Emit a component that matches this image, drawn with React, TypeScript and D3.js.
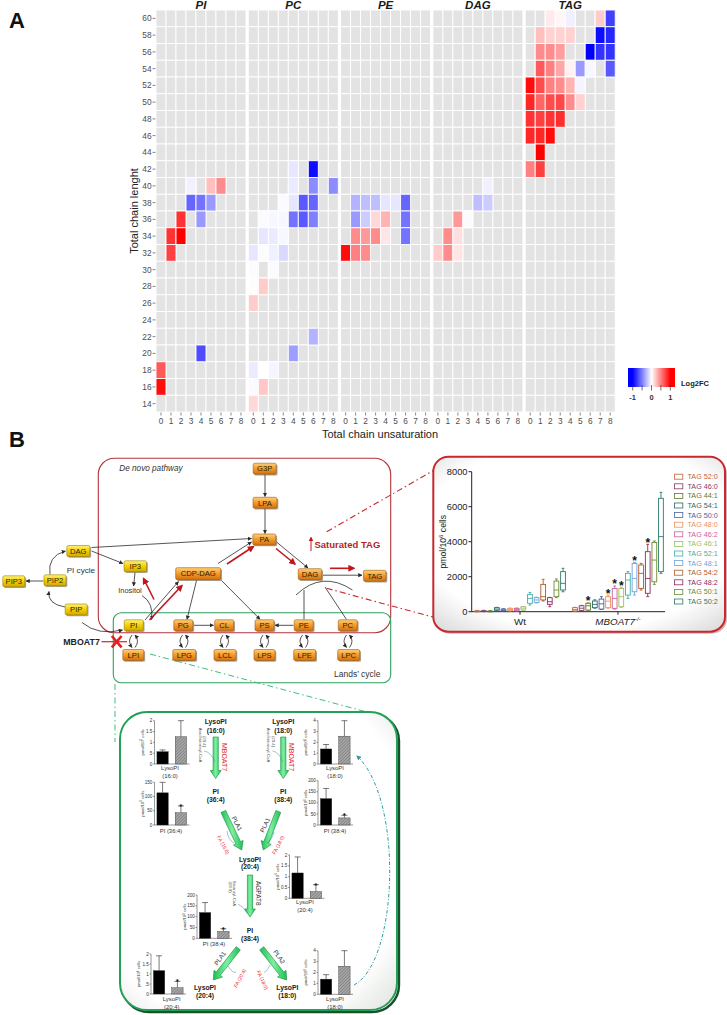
import React from "react";
import * as d3 from "d3";

const W = 727;
const H = 1015;
const FONT = "'Liberation Sans', Arial, Helvetica, sans-serif";

// ---------------- A: heatmap data ----------------
const lipidClasses = ["PI", "PC", "PE", "DAG", "TAG"];
const chainLengths = [60, 58, 56, 54, 52, 50, 48, 46, 44, 42, 40, 38, 36, 34, 32, 30, 28, 26, 24, 22, 20, 18, 16, 14];
const unsaturations = [0, 1, 2, 3, 4, 5, 6, 7, 8];
const log2fcTicks = [-1, -0.5, 0, 0.5, 1];
const log2fcLabels = [-1, 0, 1];

// [chain length, unsaturation, log2FC]
const piCells = [
  [40, 3, -0.05], [40, 5, 0.25], [40, 6, 0.45],
  [38, 3, -0.6], [38, 4, -0.55], [38, 5, -0.4],
  [36, 2, 0.8], [36, 4, -0.4],
  [34, 1, 0.8], [34, 2, 1.0],
  [32, 1, 0.75],
  [20, 4, -0.7],
  [18, 0, 0.65],
  [16, 0, 0.95],
];
const pcCells = [
  [42, 4, -0.1], [42, 6, -0.95],
  [40, 4, -0.08], [40, 6, -0.45], [40, 8, -0.45],
  [38, 3, -0.02], [38, 4, -0.1], [38, 5, -0.65], [38, 6, -0.6],
  [36, 1, -0.02], [36, 2, -0.03], [36, 3, -0.03], [36, 4, -0.55], [36, 5, -0.65], [36, 6, -0.5],
  [34, 1, -0.1], [34, 2, -0.08], [34, 3, -0.03],
  [32, 0, -0.1], [32, 1, -0.01], [32, 2, -0.06], [32, 3, -0.15],
  [30, 0, -0.01], [30, 2, -0.02],
  [28, 0, 0.01], [28, 1, 0.2],
  [26, 0, 0.2],
  [22, 6, -0.3],
  [20, 4, -0.38],
  [18, 0, -0.08], [18, 1, 0.0], [18, 2, -0.04],
  [16, 0, -0.02], [16, 1, 0.22],
  [14, 0, 0.15],
];
const peCells = [
  [38, 1, -0.3], [38, 2, -0.25], [38, 3, -0.25], [38, 4, -0.1], [38, 5, -0.1], [38, 6, -0.6],
  [36, 1, -0.4], [36, 2, -0.2], [36, 3, 0.15], [36, 4, 0.3], [36, 6, -0.55],
  [34, 1, 0.45], [34, 2, 0.4], [34, 3, 0.45], [34, 4, 0.1], [34, 6, -0.55],
  [32, 0, 0.95], [32, 1, 0.5], [32, 2, 0.45],
];
const dagCells = [
  [40, 5, -0.06],
  [38, 4, -0.25], [38, 5, -0.2],
  [36, 2, 0.4], [36, 3, -0.02],
  [34, 1, 0.45], [34, 2, 0.12],
  [32, 0, 0.2], [32, 1, 0.45], [32, 2, 0.1],
];
const tagCells = [
  [60, 2, 0.08], [60, 3, 0.03], [60, 4, -0.06], [60, 7, 0.2], [60, 8, -0.75],
  [58, 1, 0.25], [58, 2, 0.18], [58, 3, 0.18], [58, 4, 0.18], [58, 7, -0.95], [58, 8, -0.85],
  [56, 1, 0.45], [56, 2, 0.45], [56, 3, 0.38], [56, 6, -1], [56, 7, -0.8], [56, 8, -0.8],
  [54, 1, 0.65], [54, 2, 0.5], [54, 3, 0.35], [54, 4, 0.05], [54, 5, -0.4], [54, 6, -0.03], [54, 8, -0.65],
  [52, 0, 0.95], [52, 1, 0.7], [52, 2, 0.5], [52, 3, 0.45], [52, 4, 0.3], [52, 5, -0.04],
  [50, 0, 0.85], [50, 1, 0.6], [50, 2, 0.7], [50, 3, 0.72], [50, 4, 0.45], [50, 5, 0.18],
  [48, 0, 0.8], [48, 1, 0.75], [48, 2, 0.8], [48, 3, 0.82],
  [46, 0, 0.85], [46, 1, 0.85], [46, 2, 0.95],
  [44, 1, 1.0],
  [42, 0, 0.5], [42, 1, 0.75],
];
const cellsByClass = { PI: piCells, PC: pcCells, PE: peCells, DAG: dagCells, TAG: tagCells };

// ---------------- B: TAG box plot data ----------------
const genotypes = ["Wt", "MBOAT7"];
const tagSpecies = ["TAG 52:0", "TAG 46:0", "TAG 44:1", "TAG 54:1", "TAG 50:0", "TAG 48:0", "TAG 46:2",
  "TAG 46:1", "TAG 52:1", "TAG 48:1", "TAG 54:2", "TAG 48:2", "TAG 50:1", "TAG 50:2"];
const tagColors = ["#c0653a", "#8a3a5c", "#5d7a2e", "#2b6b6b", "#4a62a0", "#f0905a", "#d0609a",
  "#98c060", "#40b0a8", "#70a0e0", "#b05a2a", "#8a2a5a", "#6a8a30", "#2e7a6a"];
// [min, q1, median, q3, max] pmol/10^6 cells
const wtBoxes = [
  [0, 10, 25, 45, 70], [0, 15, 30, 55, 80], [0, 5, 20, 40, 60], [60, 80, 150, 230, 250],
  [40, 60, 100, 150, 170], [40, 60, 120, 190, 210], [40, 60, 120, 190, 210], [80, 100, 200, 285, 300],
  [380, 480, 760, 990, 1100], [500, 530, 670, 800, 830], [610, 670, 860, 1560, 1850],
  [285, 420, 570, 800, 820], [800, 860, 1240, 1750, 1870], [1140, 1240, 1620, 2290, 2480],
];
const koBoxes = [
  [20, 40, 120, 230, 250], [60, 75, 200, 340, 360], [80, 95, 340, 480, 500], [200, 230, 420, 610, 680],
  [130, 150, 450, 720, 860], [200, 230, 600, 860, 950], [150, 190, 760, 1330, 1470], [250, 285, 860, 1330, 1400],
  [760, 950, 1810, 2190, 2290], [950, 1140, 1900, 2760, 2820], [1240, 1330, 2190, 2670, 2760],
  [860, 1050, 1900, 3430, 3850], [1560, 1710, 2950, 3960, 4040], [2190, 2290, 4290, 6480, 6820],
];
const koSignificant = [false, false, true, false, false, true, true, true, false, true, false, true, false, false];
const tagTicks = [0, 2000, 4000, 6000, 8000];

// ---------------- B: Lands' cycle bar data (Wt, MBOAT7-/-) ----------------
const barGroups = ["Wt", "KO"];
const lysoPI160Mean = [0.57, 1.26];
const lysoPI160Err = [0.08, 0.74];
const pi364Mean = [113, 43];
const pi364Err = [37, 24];
const lysoPI180Mean = [1.39, 2.57];
const lysoPI180Err = [0.41, 1.43];
const pi384Mean = [119, 32];
const pi384Err = [46, 12];
const lysoPI204Mean = [1.17, 0.31];
const lysoPI204Err = [0.74, 0.32];

// ---------------- scales ----------------
const panelX = d3.scaleBand().domain(lipidClasses).range([156, 615.2]).paddingInner(0.025);
const colX = d3.scaleBand().domain(unsaturations).range([0, panelX.bandwidth()]);
const rowY = d3.scaleBand().domain(chainLengths).range([10, 412]);
const fillScale = d3.scaleLinear().domain([-1, 0, 1]).range(["#0000ff", "#ffffff", "#ff0000"]).clamp(true);
const cbarX = d3.scaleLinear().domain([-1.25, 1.25]).range([628, 675]);

const bpY = d3.scaleLinear().domain([0, 8000]).range([611.7, 471.7]);
const bpGroup = d3.scaleBand().domain(genotypes).range([474, 664]).paddingInner(0.06);
const bpInner = d3.scaleBand().domain(tagSpecies).range([0, bpGroup.bandwidth()]).paddingInner(0.28).paddingOuter(0.1);

// ---------------- pathway layout ----------------
const nodes = [
  { id: "G3P", x: 264.7, y: 468.7, w: 23, k: "o" },
  { id: "LPA", x: 265, y: 502.8, w: 24, k: "o" },
  { id: "PA", x: 264.3, y: 539.5, w: 23, k: "o" },
  { id: "CDP-DAG", x: 198.2, y: 573.7, w: 45, k: "o" },
  { id: "DAG", x: 310, y: 574.2, w: 23.5, k: "o" },
  { id: "TAG", x: 374.7, y: 575.8, w: 22.5, k: "o" },
  { id: "PG", x: 183.3, y: 625.3, w: 19, k: "o" },
  { id: "CL", x: 224.2, y: 625.3, w: 19, k: "o" },
  { id: "PS", x: 264.5, y: 625.3, w: 19, k: "o" },
  { id: "PE", x: 303.7, y: 625.3, w: 19, k: "o" },
  { id: "PC", x: 347.8, y: 625.3, w: 19, k: "o" },
  { id: "LPI", x: 133.3, y: 655, w: 21, k: "o" },
  { id: "LPG", x: 184.3, y: 655, w: 23, k: "o" },
  { id: "LCL", x: 225, y: 655, w: 22, k: "o" },
  { id: "LPS", x: 264.5, y: 655, w: 21, k: "o" },
  { id: "LPE", x: 304.7, y: 655, w: 22, k: "o" },
  { id: "LPC", x: 348.7, y: 655, w: 22, k: "o" },
  { id: "DAG", x: 78.3, y: 551, w: 23, k: "y" },
  { id: "IP3", x: 135.3, y: 566.3, w: 22.5, k: "y" },
  { id: "PIP2", x: 55, y: 580.3, w: 22, k: "y" },
  { id: "PIP3", x: 13.8, y: 581.3, w: 22, k: "y" },
  { id: "PIP", x: 76.2, y: 609.5, w: 22, k: "y" },
  { id: "PI", x: 133.7, y: 625.3, w: 19, k: "y" },
];
const blackArrows = [
  "M265 474.5 L265 496.5", "M265 508.5 L265 533.5", "M91.5 547.5 L251.5 538.5", "M91.5 551 L123 563.5",
  "M135 572.5 L133.6 586", "M142 595.5 Q154 603 151.5 619.5", "M145 620 L178.5 581.5",
  "M218 563.5 L251.5 542", "M276.5 542 L308 568", "M323 575.2 L362 575.2", "M196.5 580.5 L187 619.3",
  "M221.5 580.5 L260 619.3", "M194 625.3 L213.5 625.3", "M293.5 625.3 L275 625.3", "M43.5 581 L26 581",
  "M65 607 Q47 604 49 591.5", "M50 574.5 Q47 556 65.5 551", "M82 622.5 Q98 636 122.5 630",
];
const blackLines = ["M304 619.5 L304 590", "M346.5 619.5 L325 587", "M296 595 Q322 570 352.5 590"];
const redArrows = ["M154 599.5 L143.5 578.5", "M149.5 620 L182 585.5", "M227 564 L253.5 546.5", "M276 548.5 L295 564", "M330 568.3 L354 568.3"];
const landsX = [133.5, 184, 224.5, 264.5, 304, 348];

// ---------------- Lands' cycle panel layout ----------------
const miniCharts = [
  { ax: 154.5, y0: 764, yTop: 720.7, max: 2, ticks: [0, 0.5, 1, 1.5, 2], fmt: ["0", ".5", "1", "1.5", "2"], mean: lysoPI160Mean, err: lysoPI160Err, star: false, lab: ["LysoPI", "(16:0)"], lx: 170, ly: 770 },
  { ax: 154.5, y0: 825, yTop: 782.3, max: 150, ticks: [0, 50, 100, 150], fmt: ["0", "50", "100", "150"], mean: pi364Mean, err: pi364Err, star: true, lab: ["PI (36:4)"], lx: 171, ly: 833 },
  { ax: 318, y0: 764, yTop: 720.7, max: 4, ticks: [0, 1, 2, 3, 4], fmt: ["0", "1", "2", "3", "4"], mean: lysoPI180Mean, err: lysoPI180Err, star: false, lab: ["LysoPI", "(18:0)"], lx: 335, ly: 770 },
  { ax: 318, y0: 825, yTop: 780.7, max: 200, ticks: [0, 50, 100, 150, 200], fmt: ["0", "50", "100", "150", "200"], mean: pi384Mean, err: pi384Err, star: true, lab: ["PI (38:4)"], lx: 335, ly: 833 },
  { ax: 289.5, y0: 898.3, yTop: 855, max: 2, ticks: [0, 0.5, 1, 1.5, 2], fmt: ["0", "0.5", "1", "1.5", "2"], mean: lysoPI204Mean, err: lysoPI204Err, star: true, lab: ["LysoPI", "(20:4)"], lx: 305, ly: 904 },
  { ax: 197, y0: 938.3, yTop: 895, max: 200, ticks: [0, 50, 100, 150, 200], fmt: ["0", "50", "100", "150", "200"], mean: pi384Mean, err: pi384Err, star: true, lab: ["PI (38:4)"], lx: 214, ly: 946 },
  { ax: 151, y0: 994, yTop: 954, max: 2, ticks: [0, 0.5, 1, 1.5, 2], fmt: ["0", ".5", "1", "1.5", "2"], mean: lysoPI204Mean, err: lysoPI204Err, star: true, lab: ["LysoPI", "(20:4)"], lx: 171.7, ly: 1001 },
  { ax: 318, y0: 994.3, yTop: 950.7, max: 4, ticks: [0, 1, 2, 3, 4], fmt: ["0", "1", "2", "3", "4"], mean: lysoPI180Mean, err: lysoPI180Err, star: false, lab: ["LysoPI", "(18:0)"], lx: 335, ly: 1001 },
];
const speciesLabels = [
  { t: "LysoPI", x: 215.7, y: 724 }, { t: "(16:0)", x: 215.7, y: 732.5 },
  { t: "LysoPI", x: 283.3, y: 724 }, { t: "(18:0)", x: 283.3, y: 732.5 },
  { t: "PI", x: 215.7, y: 793.5 }, { t: "(36:4)", x: 215.7, y: 802 },
  { t: "PI", x: 283.3, y: 793.5 }, { t: "(38:4)", x: 283.3, y: 802 },
  { t: "LysoPI", x: 250, y: 861.5 }, { t: "(20:4)", x: 250, y: 869 },
  { t: "PI", x: 250, y: 932.5 }, { t: "(38:4)", x: 250, y: 941 },
  { t: "LysoPI", x: 205, y: 990 }, { t: "(20:4)", x: 205, y: 998 },
  { t: "LysoPI", x: 287.3, y: 990 }, { t: "(18:0)", x: 287.3, y: 998 },
];
const greenArrows = [
  [215.7, 737, 215.7, 778.5], [283.3, 737, 283.3, 778.5], [223.3, 811.5, 241.7, 850],
  [278.3, 811.5, 263.3, 850], [250, 875, 250, 917], [238.3, 948.3, 213.3, 980], [261.7, 948.3, 286.7, 980],
];
const rotLabels = [
  { t: "MBOAT7", x: 224.5, y: 757, a: 90, s: 7, c: "#e8202a" },
  { t: "MBOAT7", x: 291.8, y: 757, a: 90, s: 7, c: "#e8202a" },
  { t: "Arachidonoyl-CoA", x: 200.5, y: 745, a: 90, s: 4.3, c: "#555" },
  { t: "(20:4)", x: 205, y: 741.5, a: 90, s: 4.3, c: "#555" },
  { t: "Arachidonoyl-CoA", x: 268.7, y: 745, a: 90, s: 4.3, c: "#555" },
  { t: "(20:4)", x: 273.2, y: 741.5, a: 90, s: 4.3, c: "#555" },
  { t: "PLA1", x: 237, y: 823.5, a: 62, s: 6.3, c: "#333" },
  { t: "FA (16:0)", x: 223.3, y: 845, a: 62, s: 5, c: "#e8202a" },
  { t: "PLA1", x: 265, y: 825, a: -65, s: 6.3, c: "#333" },
  { t: "FA (18:0)", x: 278.3, y: 845, a: -62, s: 5, c: "#e8202a" },
  { t: "AGPAT8", x: 258.5, y: 893.3, a: 90, s: 6.5, c: "#333" },
  { t: "Stearoyl-CoA", x: 235, y: 893.3, a: 90, s: 4.3, c: "#555" },
  { t: "(18:0)", x: 230.5, y: 887, a: 90, s: 4.3, c: "#555" },
  { t: "PLA1", x: 220, y: 958.3, a: -55, s: 6.3, c: "#333" },
  { t: "FA (20:4)", x: 240, y: 978.3, a: -62, s: 5, c: "#e8202a" },
  { t: "PLA2", x: 279.2, y: 956.7, a: 55, s: 6.3, c: "#333" },
  { t: "FA (18:0)", x: 262.5, y: 980, a: 65, s: 5, c: "#e8202a" },
];
const thinCurves = [
  "M204 751 Q211 752 215 762", "M272.5 751 Q279 752 282.8 762", "M227 831 Q228 840 234 843",
  "M274 832 Q272 840 267 843", "M238 904 Q243 906 247 913", "M228 966 Q233 974 236 972", "M270 965 Q266 973 264 972",
];

function blockArrow(x1, y1, x2, y2) {
  const shaft = 2.6, head = 5.4, headLen = 8;
  const dx = x2 - x1, dy = y2 - y1, len = Math.hypot(dx, dy);
  const ux = dx / len, uy = dy / len, px = -uy, py = ux;
  const bx = x2 - ux * headLen, by = y2 - uy * headLen;
  const pts = [
    [x1 + px * shaft, y1 + py * shaft], [bx + px * shaft, by + py * shaft], [bx + px * head, by + py * head],
    [x2, y2], [bx - px * head, by - py * head], [bx - px * shaft, by - py * shaft], [x1 - px * shaft, y1 - py * shaft],
  ];
  return "M" + pts.map((p) => p[0].toFixed(2) + "," + p[1].toFixed(2)).join("L") + "Z";
}

function Sup6({ size }) {
  return (
    <>
      pmol/10<tspan fontSize={size * 0.7} dy={-size * 0.35}>6</tspan>
      <tspan dy={size * 0.35}> cells</tspan>
    </>
  );
}

function Heatmap() {
  return (
    <g>
      <text x={9} y={28} fontSize={22} fontWeight="bold" fill="#111">A</text>
      {lipidClasses.map((cls) => {
        const x0 = panelX(cls);
        return (
          <g key={cls} transform={`translate(${x0},0)`}>
            {chainLengths.map((L) =>
              unsaturations.map((u) => (
                <rect key={L + "-" + u} x={colX(u)} y={rowY(L)} width={colX.bandwidth()} height={rowY.bandwidth()}
                  fill="#e3e3e3" stroke="#ffffff" strokeWidth={0.9} />
              ))
            )}
            {cellsByClass[cls].map(([L, u, v]) => (
              <rect key={"c" + L + "-" + u} x={colX(u)} y={rowY(L)} width={colX.bandwidth()} height={rowY.bandwidth()}
                fill={fillScale(v)} stroke="#ffffff" strokeWidth={0.9} />
            ))}
            <text x={panelX.bandwidth() / 2} y={9} textAnchor="middle" fontSize={11.5} fontWeight="bold" fontStyle="italic" fill="#1a1a1a">{cls}</text>
            {unsaturations.map((u) => (
              <g key={"t" + u} transform={`translate(${colX(u) + colX.bandwidth() / 2},0)`}>
                <line y1={412.5} y2={415.5} stroke="#555" strokeWidth={0.7} />
                <text y={423.5} textAnchor="middle" fontSize={8.3} fill="#4d4d4d">{u}</text>
              </g>
            ))}
          </g>
        );
      })}
      {chainLengths.map((L) => (
        <g key={"y" + L} transform={`translate(0,${rowY(L) + rowY.bandwidth() / 2})`}>
          <line x1={152.5} x2={155.5} stroke="#555" strokeWidth={0.7} />
          <text x={151.5} dy="0.35em" textAnchor="end" fontSize={8.3} fill="#4d4d4d">{L}</text>
        </g>
      ))}
      <text x={380} y={437.5} textAnchor="middle" fontSize={11} fill="#222">Total chain unsaturation</text>
      <text transform="translate(138,211) rotate(-90)" textAnchor="middle" fontSize={11} fill="#222">Total chain lenght</text>
      {/* colour bar legend */}
      <rect x={628} y={368} width={47} height={19} fill="url(#cbar)" />
      {log2fcTicks.map((t) => (
        <line key={"cb" + t} x1={cbarX(t)} x2={cbarX(t)} y1={385} y2={390.5} stroke="#333" strokeWidth={0.7} />
      ))}
      {log2fcLabels.map((t) => (
        <text key={"cl" + t} x={cbarX(t)} y={399.5} textAnchor="middle" fontSize={7.5} fontWeight="bold" fill="#333">{t}</text>
      ))}
      <text x={681} y={386} fontSize={7.5} fontWeight="bold" fill="#222">Log2FC</text>
    </g>
  );
}

function PathNode({ n }) {
  const h = n.id === "CDP-DAG" ? 12 : 11;
  const orange = n.k === "o";
  return (
    <g>
      <rect x={n.x - n.w / 2 + 1.3} y={n.y - h / 2 + 1.3} width={n.w} height={h} rx={1.6} fill="#5a4a30" opacity={0.5} />
      <rect x={n.x - n.w / 2} y={n.y - h / 2} width={n.w} height={h} rx={1.6}
        fill={orange ? "url(#gOrange)" : "url(#gYellow)"} stroke={orange ? "#9a5a12" : "#9a8200"} strokeWidth={0.6} />
      <text x={n.x} y={n.y} dy="0.36em" textAnchor="middle" fontSize={7.6} fill="#2b1d08">{n.id}</text>
    </g>
  );
}

function Pathway() {
  return (
    <g>
      <text x={9} y={447} fontSize={22} fontWeight="bold" fill="#111">B</text>
      <rect x={98.3} y={458.3} width={292.4} height={174.4} rx={16} fill="none" stroke="#b3343a" strokeWidth={1.1} />
      <rect x={113.3} y={612.7} width={277.4} height={70} rx={8} fill="none" stroke="#2ea05e" strokeWidth={1.1} />
      <text x={119.3} y={471} fontSize={8.2} fontStyle="italic" fill="#333">De novo pathway</text>
      <text x={66.7} y={573} fontSize={8.1} fill="#333">PI cycle</text>
      <text x={118.3} y={593} fontSize={7.4} fill="#333">Inositol</text>
      <text x={334} y={677} fontSize={8.5} fill="#333">Lands’ cycle</text>
      <line x1={311} y1={551} x2={311} y2={537.5} stroke="#c0161c" strokeWidth={1} markerEnd="url(#mRedS)" />
      <text x={314.5} y={548} fontSize={9.5} fontWeight="bold" fill="#b51f24">Saturated TAG</text>
      {blackLines.map((d, i) => <path key={"bl" + i} d={d} fill="none" stroke="#2a2a2a" strokeWidth={0.8} />)}
      {blackArrows.map((d, i) => <path key={"ba" + i} d={d} fill="none" stroke="#2a2a2a" strokeWidth={0.8} markerEnd="url(#mBlack)" />)}
      {redArrows.map((d, i) => <path key={"ra" + i} d={d} fill="none" stroke="#c0161c" strokeWidth={1.6} markerEnd="url(#mRed)" />)}
      {landsX.map((x) => (
        <g key={"rv" + x}>
          <path d={`M${x - 1.5} 635 Q${x - 6.5} 641 ${x - 1.5} 647.5`} fill="none" stroke="#2a2a2a" strokeWidth={0.8} markerEnd="url(#mBlack)" />
          <path d={`M${x + 1.5} 647.5 Q${x + 6.5} 641 ${x + 1.5} 635`} fill="none" stroke="#2a2a2a" strokeWidth={0.8} markerEnd="url(#mBlack)" />
        </g>
      ))}
      {nodes.map((n, i) => <PathNode key={"n" + i} n={n} />)}
      <text x={63.3} y={645} fontSize={8.8} fontWeight="bold" fill="#222">MBOAT7</text>
      <line x1={101.5} y1={641.7} x2={127} y2={641.7} stroke="#e02020" strokeWidth={1.2} />
      <line x1={111.8} y1={636} x2={121.6} y2={647.4} stroke="#e02020" strokeWidth={2.6} />
      <line x1={121.6} y1={636} x2={111.8} y2={647.4} stroke="#e02020" strokeWidth={2.6} />
      {/* connector lines */}
      <path d="M326.7 531.7 L440 466.7" stroke="#c82828" strokeWidth={1.1} strokeDasharray="6 3 1.5 3" fill="none" />
      <path d="M326.7 588.3 L450 621.7" stroke="#c82828" strokeWidth={1.1} strokeDasharray="6 3 1.5 3" fill="none" />
      <path d="M150 654 L367 712" stroke="#3cc07a" strokeWidth={1} strokeDasharray="6 3 1.5 3" fill="none" />
      <path d="M115 684 L115 742" stroke="#3cc07a" strokeWidth={1} strokeDasharray="6 3 1.5 3" fill="none" />
    </g>
  );
}

function TagBoxPlot() {
  const boxesBy = { Wt: wtBoxes, MBOAT7: koBoxes };
  const bw = bpInner.bandwidth();
  return (
    <g>
      <rect x={435.3} y={458.7} width={291.7} height={175} rx={15} fill="#7a2a2a" opacity={0.35} />
      <rect x={433.3} y={456.7} width={291.7} height={175} rx={15} fill="url(#insetFill)" stroke="#c8282e" strokeWidth={2} />
      <line x1={471.7} x2={471.7} y1={bpY(8000)} y2={bpY(0)} stroke="#222" strokeWidth={1} />
      <line x1={471.7} x2={665} y1={bpY(0)} y2={bpY(0)} stroke="#222" strokeWidth={1} />
      {tagTicks.map((t) => (
        <g key={"bt" + t}>
          <line x1={468.5} x2={471.7} y1={bpY(t)} y2={bpY(t)} stroke="#222" strokeWidth={1} />
          <text x={467.5} y={bpY(t)} dy="0.35em" textAnchor="end" fontSize={9.3} fill="#222">{t}</text>
        </g>
      ))}
      <text transform={`translate(446,${(bpY(0) + bpY(8000)) / 2}) rotate(-90)`} textAnchor="middle" fontSize={8.6} fill="#222">
        <Sup6 size={8.6} />
      </text>
      {genotypes.map((g) => {
        const gx = bpGroup(g);
        const cx = gx + bpGroup.bandwidth() / 2;
        return (
          <g key={g}>
            <line x1={cx} x2={cx} y1={bpY(0)} y2={bpY(0) + 3} stroke="#222" strokeWidth={1} />
            {boxesBy[g].map((b, i) => {
              const x = gx + bpInner(tagSpecies[i]);
              const mx = x + bw / 2;
              const col = tagColors[i];
              return (
                <g key={i} stroke={col} strokeWidth={0.9} fill="none">
                  <line x1={mx} x2={mx} y1={bpY(b[4])} y2={bpY(b[3])} />
                  <line x1={mx} x2={mx} y1={bpY(b[1])} y2={bpY(b[0])} />
                  <line x1={mx - bw * 0.3} x2={mx + bw * 0.3} y1={bpY(b[4])} y2={bpY(b[4])} />
                  <line x1={mx - bw * 0.3} x2={mx + bw * 0.3} y1={bpY(b[0])} y2={bpY(b[0])} />
                  <rect x={x} y={bpY(b[3])} width={bw} height={Math.max(0.8, bpY(b[1]) - bpY(b[3]))} fill="#fff" />
                  <line x1={x} x2={x + bw} y1={bpY(b[2])} y2={bpY(b[2])} />
                  {g === "MBOAT7" && koSignificant[i] ? (
                    <text x={mx} y={bpY(b[4]) + 2.5} textAnchor="middle" fontSize={12} fontWeight="bold" fill="#111" stroke="none">*</text>
                  ) : null}
                </g>
              );
            })}
          </g>
        );
      })}
      <text x={bpGroup("Wt") + bpGroup.bandwidth() / 2} y={625} textAnchor="middle" fontSize={9.8} fill="#222">Wt</text>
      <text x={bpGroup("MBOAT7") + bpGroup.bandwidth() / 2} y={625} textAnchor="middle" fontSize={9.8} fontStyle="italic" fill="#222">
        MBOAT7<tspan fontSize={6} dy={-4}>-/-</tspan>
      </text>
      {tagSpecies.map((s, i) => {
        const y = 476.7 + i * 9.6;
        return (
          <g key={s}>
            <rect x={674.5} y={y - 2.5} width={8.3} height={5} fill="none" stroke={tagColors[i]} strokeWidth={0.8} />
            <text x={687.5} y={y} dy="0.35em" fontSize={7.2} fill={tagColors[i]}>{s}</text>
          </g>
        );
      })}
    </g>
  );
}

function MiniBars({ c }) {
  const y = d3.scaleLinear().domain([0, c.max]).range([c.y0, c.yTop]);
  const x = d3.scaleBand().domain(barGroups).range([c.ax + 1.5, c.ax + 33]).paddingInner(0.38).paddingOuter(0.05);
  return (
    <g>
      <line x1={c.ax} x2={c.ax} y1={c.yTop} y2={c.y0} stroke="#333" strokeWidth={0.5} />
      <line x1={c.ax} x2={c.ax + 35} y1={c.y0} y2={c.y0} stroke="#333" strokeWidth={0.5} />
      {c.ticks.map((t, i) => (
        <g key={t}>
          <line x1={c.ax - 1.5} x2={c.ax} y1={y(t)} y2={y(t)} stroke="#333" strokeWidth={0.5} />
          <text x={c.ax - 2.2} y={y(t)} dy="0.35em" textAnchor="end" fontSize={4.6} fill="#333">{c.fmt[i]}</text>
        </g>
      ))}
      <text transform={`translate(${c.ax - 11},${(c.y0 + c.yTop) / 2}) rotate(-90)`} textAnchor="middle" fontSize={4.2} fill="#444">
        <Sup6 size={4.2} />
      </text>
      {barGroups.map((g, i) => {
        const bx = x(g);
        const cx = bx + x.bandwidth() / 2;
        const top = y(c.mean[i] + c.err[i]);
        return (
          <g key={g}>
            <line x1={cx} x2={cx} y1={y(c.mean[i])} y2={top} stroke="#222" strokeWidth={0.6} />
            <line x1={cx - 3} x2={cx + 3} y1={top} y2={top} stroke="#222" strokeWidth={0.6} />
            <rect x={bx} y={y(c.mean[i])} width={x.bandwidth()} height={c.y0 - y(c.mean[i])}
              fill={i === 0 ? "#000" : "url(#hatch)"} stroke="#333" strokeWidth={0.4} />
            {i === 1 && c.star ? (
              <text x={cx} y={top + 3} textAnchor="middle" fontSize={8} fontWeight="bold" fill="#111">*</text>
            ) : null}
          </g>
        );
      })}
      {c.lab.map((t, i) => (
        <text key={t} x={c.lx} y={c.ly + i * 8.3} textAnchor="middle" fontSize={5.9} fill="#333">{t}</text>
      ))}
    </g>
  );
}

function LandsPanel() {
  return (
    <g>
      <rect x={122} y={714} width={277} height={298} rx={27} fill="none" stroke="#17502c" strokeWidth={2.4} />
      <rect x={120} y={712} width={277} height={298} rx={27} fill="url(#landsFill)" stroke="#22a055" strokeWidth={2} />
      {miniCharts.map((c, i) => <MiniBars key={i} c={c} />)}
      {greenArrows.map((a, i) => (
        <path key={"ga" + i} d={blockArrow(a[0], a[1], a[2], a[3])} fill="url(#gGreen)" stroke="#138a3c" strokeWidth={0.6} />
      ))}
      {thinCurves.map((d, i) => <path key={"tc" + i} d={d} fill="none" stroke="#3a8a9a" strokeWidth={0.5} />)}
      {speciesLabels.map((l, i) => (
        <text key={"sl" + i} x={l.x} y={l.y} textAnchor="middle" fontSize={6.8} fontWeight="bold" fill="#222">{l.t}</text>
      ))}
      {rotLabels.map((l, i) => (
        <text key={"rl" + i} transform={`translate(${l.x},${l.y}) rotate(${l.a})`} textAnchor="middle" dy="0.35em"
          fontSize={l.s} fill={l.c}>{l.t}</text>
      ))}
      <path d="M354 985 C398 962 404 800 357 756" fill="none" stroke="#2aa0a6" strokeWidth={1} strokeDasharray="3.5 1.8 1 1.8" markerEnd="url(#mTeal)" />
    </g>
  );
}

export default function App() {
  const cbarStops = [-1.25, -1, -0.5, 0, 0.5, 1, 1.25];
  return (
    <div style={{ position: "absolute", left: 0, top: 0 }}>
      <svg width={W} height={H} viewBox={`0 0 ${W} ${H}`} style={{ display: "block", fontFamily: FONT }}>
        <defs>
          <linearGradient id="cbar" x1="0" x2="1" y1="0" y2="0">
            {cbarStops.map((v) => (
              <stop key={v} offset={(cbarX(v) - 628) / 47} stopColor={fillScale(v)} />
            ))}
          </linearGradient>
          <linearGradient id="gOrange" x1="0" x2="0" y1="0" y2="1">
            <stop offset="0" stopColor="#ffd07a" />
            <stop offset="0.45" stopColor="#f59e2e" />
            <stop offset="1" stopColor="#d2700e" />
          </linearGradient>
          <linearGradient id="gYellow" x1="0" x2="0" y1="0" y2="1">
            <stop offset="0" stopColor="#fff27a" />
            <stop offset="0.5" stopColor="#f2d000" />
            <stop offset="1" stopColor="#d2a600" />
          </linearGradient>
          <linearGradient id="gGreen" x1="0" x2="1" y1="0" y2="0">
            <stop offset="0" stopColor="#1fbf55" />
            <stop offset="0.5" stopColor="#7ef0a2" />
            <stop offset="1" stopColor="#1fbf55" />
          </linearGradient>
          <radialGradient id="insetFill" cx="0.5" cy="0.45" r="0.72">
            <stop offset="0.75" stopColor="#ffffff" />
            <stop offset="1" stopColor="#dcdcdc" />
          </radialGradient>
          <radialGradient id="landsFill" cx="0.45" cy="0.45" r="0.75">
            <stop offset="0.8" stopColor="#ffffff" />
            <stop offset="1" stopColor="#e2e6e2" />
          </radialGradient>
          <pattern id="hatch" width="2.2" height="2.2" patternUnits="userSpaceOnUse" patternTransform="rotate(45)">
            <rect width="2.2" height="2.2" fill="#a6a6a6" />
            <line x1="0" y1="0" x2="0" y2="2.2" stroke="#6a6a6a" strokeWidth="0.9" />
          </pattern>
          <marker id="mBlack" viewBox="0 0 10 10" refX="9" refY="5" markerWidth="4.2" markerHeight="4.2" markerUnits="userSpaceOnUse" orient="auto">
            <path d="M0,0L10,5L0,10z" fill="#2a2a2a" />
          </marker>
          <marker id="mRed" viewBox="0 0 10 10" refX="8" refY="5" markerWidth="7" markerHeight="7" markerUnits="userSpaceOnUse" orient="auto">
            <path d="M0,0L10,5L0,10z" fill="#c0161c" />
          </marker>
          <marker id="mRedS" viewBox="0 0 10 10" refX="8" refY="5" markerWidth="4.5" markerHeight="4.5" markerUnits="userSpaceOnUse" orient="auto">
            <path d="M0,0L10,5L0,10z" fill="#c0161c" />
          </marker>
          <marker id="mTeal" viewBox="0 0 10 10" refX="8" refY="5" markerWidth="5" markerHeight="5" markerUnits="userSpaceOnUse" orient="auto">
            <path d="M0,0L10,5L0,10z" fill="#2aa0a6" />
          </marker>
        </defs>
        <rect width={W} height={H} fill="#ffffff" />
        <Heatmap />
        <Pathway />
        <TagBoxPlot />
        <LandsPanel />
      </svg>
    </div>
  );
}
